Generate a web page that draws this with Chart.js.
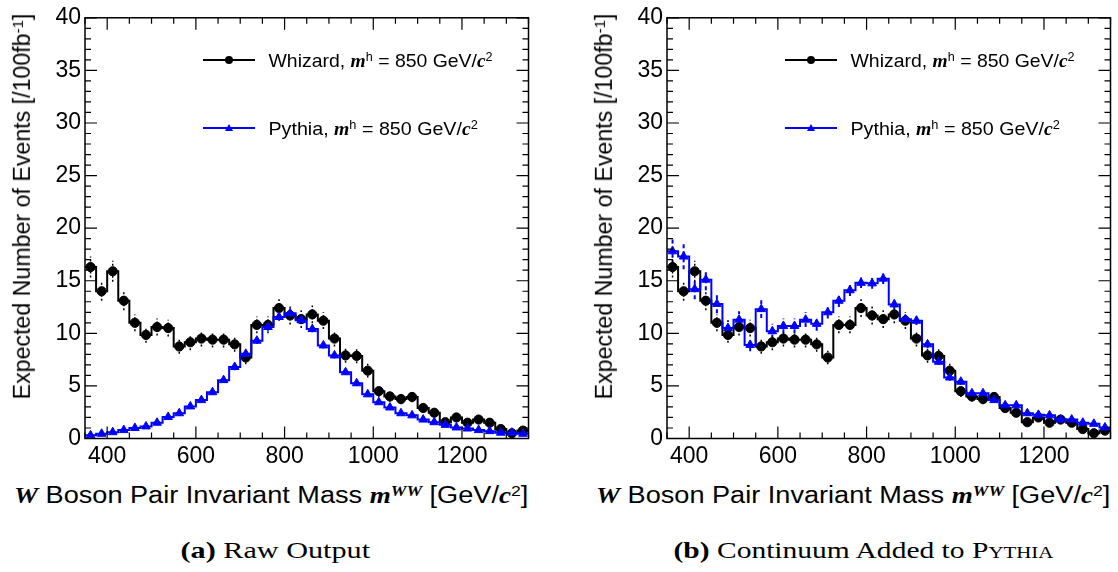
<!DOCTYPE html>
<html lang="en">
<head>
<meta charset="UTF-8">
<title>W Boson Pair Invariant Mass</title>
<script src="https://cdn.jsdelivr.net/npm/chart.js"></script>
<style>
    body {
        margin: 0;
        background: #fff;
        width: 1118px;
        height: 572px;
        overflow: hidden;
        position: relative;
        font-family: "Liberation Sans", Arial, sans-serif;
        color: #000;
    }
    canvas { position: absolute; top: 0; }
    .txt {
        position: absolute;
        white-space: nowrap;
        line-height: 1;
        transform-origin: 50% 50%;
    }
    .sbi { font-family: "Liberation Serif", serif; font-weight: bold; font-style: italic; }
    .up { position: relative; top: -0.45em; font-size: 0.65em; }
    .cap { font-family: "Liberation Serif", serif; }
    .sc { font-variant: small-caps; }
    .legline { position: absolute; height: 2px; width: 52px; }
    .dot { position: absolute; width: 8px; height: 8px; border-radius: 50%; background: #000; }
    .tri { position: absolute; width: 0; height: 0;
           border-left: 4px solid transparent; border-right: 4px solid transparent;
           border-bottom: 7px solid #0000ff; }
</style>
</head>
<body>

<canvas id="rawChart" width="545" height="471" style="left:0px"></canvas>
<canvas id="contChart" width="545" height="471" style="left:582px"></canvas>

<div id="labels"></div>

<script>
// binning of the histograms (GeV/c^2)
const massMin = 350;
const massMax = 1350;
const binWidth = 25;

// Whizard, m_h = 850 GeV/c^2 (same sample in both panels)
const whizard = [16.3, 14.0, 15.9, 13.1, 11.0, 9.85, 10.6, 10.5, 8.75, 9.15,
                 9.5, 9.4, 9.4, 8.95, 7.7, 10.8, 10.8, 12.4, 11.7, 11.35,
                 11.8, 11.2, 9.5, 7.9, 7.85, 6.45, 4.5, 4.0, 3.75, 3.95,
                 2.9, 2.45, 1.55, 2.0, 1.5, 1.8, 1.5, 0.9, 0.5, 0.75];
const whizardErr = [1.0, 0.9, 1.0, 0.9, 0.8, 0.75, 0.8, 0.8, 0.7, 0.75,
                    0.75, 0.75, 0.75, 0.7, 0.65, 0.8, 0.8, 0.85, 0.85, 0.85,
                    0.85, 0.8, 0.75, 0.7, 0.7, 0.65, 0.55, 0.5, 0.5, 0.5,
                    0.45, 0.4, 0.35, 0.35, 0.35, 0.35, 0.3, 0.25, 0.2, 0.25];

// Pythia, raw output (panel a)
const pythiaRaw = [0.3, 0.45, 0.6, 0.8, 1.0, 1.15, 1.5, 2.05, 2.4, 3.05,
                   3.65, 4.4, 5.55, 6.8, 8.05, 9.3, 10.6, 11.55, 11.9, 11.25,
                   10.4, 8.85, 7.9, 6.3, 5.25, 4.2, 3.45, 2.95, 2.4, 2.2,
                   1.8, 1.55, 1.3, 1.05, 0.95, 0.8, 0.7, 0.55, 0.55, 0.45];
const pythiaRawErr = [0.1, 0.1, 0.1, 0.1, 0.15, 0.15, 0.15, 0.2, 0.2, 0.2,
                      0.2, 0.25, 0.25, 0.3, 0.3, 0.3, 0.35, 0.35, 0.35, 0.35,
                      0.3, 0.3, 0.3, 0.25, 0.25, 0.2, 0.2, 0.2, 0.15, 0.15,
                      0.15, 0.15, 0.1, 0.1, 0.1, 0.1, 0.1, 0.1, 0.1, 0.1];

// Pythia with continuum added (panel b)
const pythiaCont = [17.8, 17.3, 14.2, 15.1, 12.8, 10.5, 11.3, 8.9, 12.3, 10.2,
                    10.7, 10.7, 11.3, 10.9, 12.0, 13.1, 14.1, 14.8, 14.75, 15.2,
                    12.75, 11.35, 11.2, 8.95, 7.3, 5.8, 5.4, 4.3, 4.3, 3.65,
                    3.15, 3.15, 2.4, 2.25, 2.2, 1.8, 1.8, 1.5, 1.4, 1.05];
const pythiaContErr = [1.25, 1.2, 0.95, 1.0, 0.9, 0.75, 0.8, 0.6, 0.85, 0.7,
                       0.7, 0.7, 0.7, 0.65, 0.6, 0.6, 0.55, 0.5, 0.5, 0.5,
                       0.45, 0.4, 0.4, 0.35, 0.3, 0.3, 0.3, 0.25, 0.25, 0.25,
                       0.2, 0.2, 0.2, 0.2, 0.2, 0.15, 0.15, 0.15, 0.15, 0.15];

const yMax = 40;
const xLabelled = [400, 600, 800, 1000, 1200];

// step line through bin edges: bin i is flat from edge i to edge i+1
function stepPoints(vals) {
    const pts = [{ x: massMin, y: vals[0] }];
    vals.forEach((v, i) => pts.push({ x: massMin + (i + 1) * binWidth, y: v }));
    return pts;
}
function centrePoints(vals) {
    return vals.map((v, i) => ({ x: massMin + (i + 0.5) * binWidth, y: v }));
}

// ROOT-like frame with inward ticks on all four sides
const frameTicks = {
    id: 'frameTicks',
    afterDraw(chart) {
        const { ctx, chartArea: a, scales: { x, y } } = chart;
        ctx.save();
        ctx.strokeStyle = '#000';
        ctx.lineWidth = 1.5;
        ctx.strokeRect(a.left, a.top, a.right - a.left, a.bottom - a.top);
        ctx.lineWidth = 1.2;
        ctx.beginPath();
        for (let v = massMin; v <= massMax; v += 50) {
            const px = x.getPixelForValue(v);
            const len = xLabelled.includes(v) ? 12 : 6;
            ctx.moveTo(px, a.bottom); ctx.lineTo(px, a.bottom - len);
            ctx.moveTo(px, a.top); ctx.lineTo(px, a.top + len);
        }
        for (let v = 0; v <= yMax; v += 1) {
            const py = y.getPixelForValue(v);
            const len = v % 5 === 0 ? 12 : 6;
            ctx.moveTo(a.left, py); ctx.lineTo(a.left + len, py);
            ctx.moveTo(a.right, py); ctx.lineTo(a.right - len, py);
        }
        ctx.stroke();
        ctx.restore();
    }
};

// vertical error bars under the markers
const errorBars = {
    id: 'errorBars',
    beforeDatasetsDraw(chart) {
        const { ctx, chartArea: a, scales: { x, y } } = chart;
        ctx.save();
        ctx.beginPath();
        ctx.rect(a.left, a.top, a.right - a.left, a.bottom - a.top);
        ctx.clip();
        chart.data.datasets.forEach(ds => {
            if (!ds.errs) return;
            ctx.strokeStyle = ds.borderColor;
            ctx.lineWidth = ds.errWidth;
            ctx.setLineDash(ds.errDash);
            ctx.beginPath();
            ds.data.forEach((p, i) => {
                const px = x.getPixelForValue(p.x);
                ctx.moveTo(px, y.getPixelForValue(p.y - ds.errs[i]));
                ctx.lineTo(px, y.getPixelForValue(p.y + ds.errs[i]));
            });
            ctx.stroke();
        });
        ctx.restore();
    }
};

const tickFont = { family: 'Liberation Sans', size: 23, lineHeight: 1.2 };

function makeChart(id, blueVals, blueErr, blueDash) {
    return new Chart(document.getElementById(id), {
        type: 'scatter',
        data: {
            datasets: [
                {
                    type: 'line', data: stepPoints(blueVals), stepped: 'after',
                    borderColor: '#0000ff', borderWidth: 2, pointRadius: 0, fill: false, order: 1
                },
                {
                    data: centrePoints(blueVals), pointStyle: 'triangle', pointRadius: 5,
                    backgroundColor: '#0000ff', borderColor: '#0000ff', borderWidth: 1, order: 0,
                    errs: blueErr, errDash: blueDash, errWidth: 2
                },
                {
                    type: 'line', data: stepPoints(whizard), stepped: 'after',
                    borderColor: '#000', borderWidth: 2, pointRadius: 0, fill: false, order: 3
                },
                {
                    data: centrePoints(whizard), pointStyle: 'circle', pointRadius: 4.6,
                    backgroundColor: '#000', borderColor: '#000', borderWidth: 1, order: 2,
                    errs: whizardErr, errDash: [2, 2], errWidth: 1.5
                }
            ]
        },
        options: {
            responsive: false,
            animation: false,
            layout: { padding: { top: 13, right: 16.5, left: 0, bottom: 0 } },
            plugins: { legend: { display: false }, tooltip: { enabled: false } },
            scales: {
                x: {
                    type: 'linear', min: massMin, max: massMax,
                    afterFit: s => { s.height = 32.5; },
                    grid: { display: false, drawTicks: false },
                    border: { display: false },
                    ticks: {
                        stepSize: 50, autoSkip: false, maxRotation: 0, padding: 4,
                        font: tickFont, color: '#000',
                        callback: v => xLabelled.includes(v) ? String(v) : ''
                    }
                },
                y: {
                    min: 0, max: yMax,
                    afterFit: s => { s.width = 85; },
                    grid: { display: false, drawTicks: false },
                    border: { display: false },
                    ticks: { stepSize: 5, padding: 4, font: tickFont, color: '#000' }
                }
            }
        },
        plugins: [errorBars, frameTicks]
    });
}

makeChart('rawChart', pythiaRaw, pythiaRawErr, [1, 3]);
makeChart('contChart', pythiaCont, pythiaContErr, [4, 3]);

// text overlays, fitted to the widths measured on the original
const mh = '<span class="sbi">m</span><span class="up">h</span> = 850 GeV/<span class="sbi">c</span><span class="up">2</span>';
const yTitle = 'Expected Number of Events [/100fb<span class="up">-1</span>]';
const xTitle = '<span class="sbi">W</span> Boson Pair Invariant Mass <span class="sbi">m<span class="up">WW</span></span> [GeV/<span class="sbi">c</span><span class="up">2</span>]';

const texts = [];
[0, 582].forEach(off => {
    texts.push({ html: yTitle, size: 23, x: 22 + off, y: 206, w: 386, rot: true });
    texts.push({ html: xTitle, size: 23, x: 14 + off, y: 495, w: 514, left: true });
    texts.push({ html: 'Whizard, ' + mh, size: 19, x: 268 + off, y: 60, w: 224, left: true });
    texts.push({ html: 'Pythia, ' + mh, size: 19, x: 268 + off, y: 128, w: 209, left: true });
});
texts.push({ html: '<b>(a)</b> Raw Output', size: 24, x: 180, y: 550, w: 190, left: true, cls: 'cap' });
texts.push({ html: '<b>(b)</b> Continuum Added to <span class="sc">Pythia</span>', size: 24, x: 673, y: 550, w: 380, left: true, cls: 'cap' });

const holder = document.getElementById('labels');
texts.forEach(t => {
    const el = document.createElement('div');
    el.className = 'txt ' + (t.cls || '');
    el.style.fontSize = t.size + 'px';
    el.innerHTML = t.html;
    holder.appendChild(el);
    const w = el.offsetWidth, h = el.offsetHeight;
    const k = t.w / w;
    const cx = t.left ? t.x + t.w / 2 : t.x;
    el.style.left = (cx - w / 2) + 'px';
    el.style.top = (t.y - h / 2) + 'px';
    el.style.transform = (t.rot ? 'rotate(-90deg) ' : '') + 'scaleX(' + k.toFixed(4) + ')';
});

// legend symbols
[0, 582].forEach(off => {
    holder.insertAdjacentHTML('beforeend',
        `<div class="legline" style="left:${203 + off}px;top:59px;background:#000"></div>
         <div class="dot" style="left:${225 + off}px;top:56px"></div>
         <div class="legline" style="left:${203 + off}px;top:127px;background:#0000ff"></div>
         <div class="tri" style="left:${225 + off}px;top:124px"></div>`);
});
</script>
</body>
</html>
